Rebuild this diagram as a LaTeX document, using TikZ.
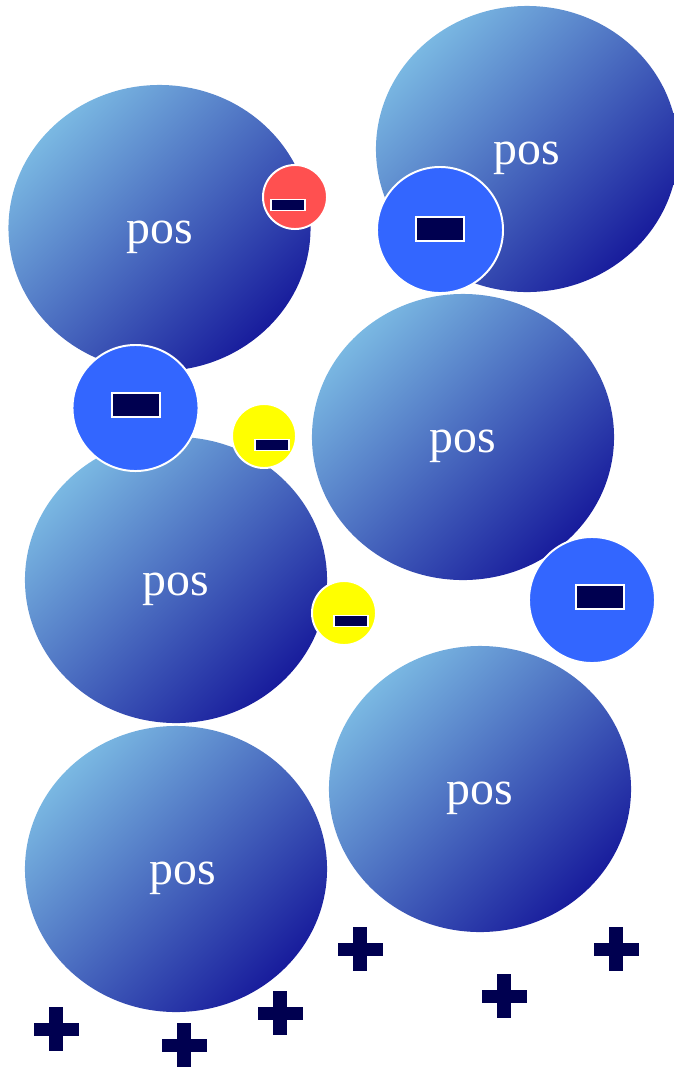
\documentclass[tikz,border=0pt]{standalone}
\usepackage{fontspec}
\setmainfont{Liberation Serif}
\usetikzlibrary{shapes.geometric}

\definecolor{posLight}{RGB}{122,184,226}
\definecolor{posDark}{RGB}{24,28,156}
\definecolor{negBlue}{RGB}{51,102,255}
\definecolor{negRed}{RGB}{255,80,80}
\definecolor{negYellow}{RGB}{255,255,0}
\definecolor{ionNavy}{RGB}{0,0,80}

\tikzset{
  posball/.style={ellipse, minimum width=7.55cm, minimum height=7.15cm, inner sep=0pt,
    top color=posLight, bottom color=posDark, shading angle=45,
    text=white, font=\fontsize{34}{40}\selectfont, text height=22.4pt, text depth=0pt},
  bigneg/.style={circle, minimum size=3.15cm, inner sep=0pt, fill=negBlue, draw=white, line width=1.4pt},
  smallneg/.style={circle, minimum size=1.6cm, inner sep=0pt, fill=#1, draw=white, line width=1.4pt},
  bigbar/.style={rectangle, minimum width=1.2cm, minimum height=0.6cm, inner sep=0pt, fill=ionNavy, draw=white, line width=1pt},
  smallbar/.style={rectangle, minimum width=0.85cm, minimum height=0.27cm, inner sep=0pt, fill=ionNavy, draw=white, line width=0.8pt}
}

\begin{document}
\begin{tikzpicture}[x=0.025cm, y=-0.025cm]
      \useasboundingbox (0,0) rectangle (673,1068);
      % positive particles
      \node (posA) at (159.5,228) [posball] {pos};
      \node (posB) at (527,149)  [posball] {pos};
      \node (posC) at (463,437)  [posball] {pos};
      \node (posD) at (176,580)  [posball] {pos};
      \node (posE) at (480,789)  [posball] {pos};
      \node (posF) at (176,869)  [posball] {\hspace*{10pt}pos};
      % negative ions sitting on them
      \node (negRed) at (295,197) [smallneg=negRed] {};
      \node at (288,205) [smallbar] {};
      \node (negTop) at (440,230) [bigneg] {};
      \node at (440,229) [bigbar] {};
      \node (negLeft) at (135.5,408) [bigneg] {};
      \node at (136,405) [bigbar] {};
      \node (negRight) at (592,600) [bigneg] {};
      \node at (600,597) [bigbar] {};
      \node (negYa) at (264,436) [smallneg=negYellow] {};
      \node at (272,445) [smallbar] {};
      \node (negYb) at (344,613) [smallneg=negYellow] {};
      \node at (351,621) [smallbar] {};
      % free cations along the bottom
      \foreach \x/\y [count=\i] in {56/1029, 184/1045, 280/1013, 360/949, 504/996, 616/949} {
        \coordinate (plus\i) at (\x,\y);
        \fill[ionNavy] (plus\i) ++(-22.5,-6.5) rectangle ++(45,13);
        \fill[ionNavy] (plus\i) ++(-7,-22) rectangle ++(14,44);
      }
\end{tikzpicture}
\end{document}
